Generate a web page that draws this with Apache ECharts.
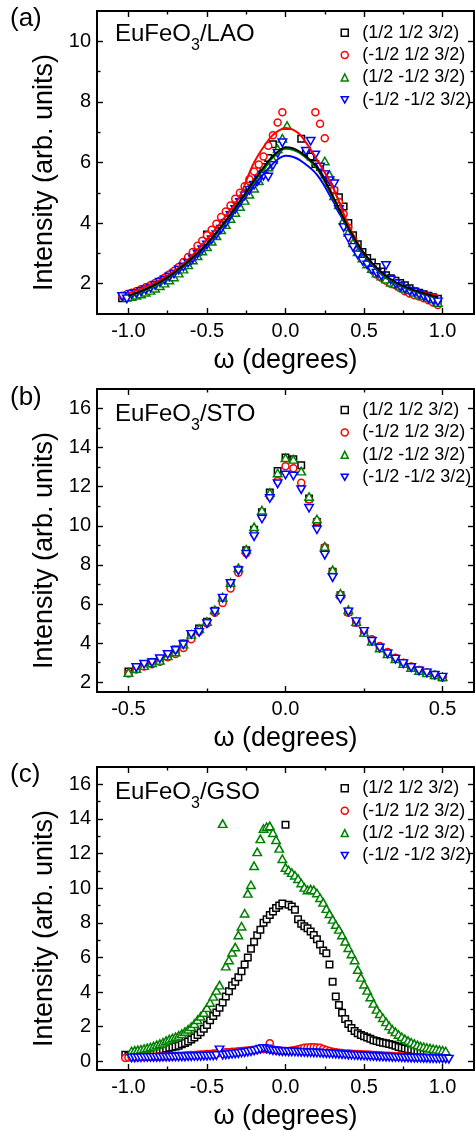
<!DOCTYPE html>
<html>
<head>
<meta charset="utf-8">
<script src="https://cdn.jsdelivr.net/npm/echarts@6/dist/echarts.min.js"></script>
<style>
  html, body { margin: 0; padding: 0; background: #fff; }
  #chart { width: 475px; height: 1131px; }
</style>
</head>
<body>
<div id="chart"></div>
<script>
const FONT = '"Liberation Sans", Arial, Helvetica, sans-serif';

// reflections
const hklNames = ['(1/2 1/2 3/2)', '(-1/2 1/2 3/2)', '(1/2 -1/2 3/2)', '(-1/2 -1/2 3/2)'];

// tick positions
const omegaTicksWide = [-1, -0.5, 0, 0.5, 1];
const omegaMinorWide = [-0.75, -0.25, 0.25, 0.75];
const omegaTicksNarrow = [-0.5, 0, 0.5];
const omegaMinorNarrow = [-0.25, 0.25];
const intensityTicksA = [2, 4, 6, 8, 10];
const intensityMinorA = [3, 5, 7, 9];
const intensityTicksB = [2, 4, 6, 8, 10, 12, 14, 16];
const intensityMinorB = [3, 5, 7, 9, 11, 13, 15];
const intensityTicksC = [0, 2, 4, 6, 8, 10, 12, 14, 16];
const intensityMinorC = [1, 3, 5, 7, 9, 11, 13, 15];

// ---- (a) EuFeO3 / LAO : rocking curves ----
const omegaLAO = [
  -1.04, -1.01, -0.98, -0.95, -0.92, -0.89, -0.86, -0.83, -0.80, -0.77,
  -0.74, -0.71, -0.68, -0.65, -0.62, -0.59, -0.56, -0.53, -0.50, -0.47,
  -0.44, -0.41, -0.38, -0.35, -0.32, -0.29, -0.26, -0.23, -0.20, -0.17,
  -0.14, -0.11, -0.08, -0.05, -0.02, 0.01, 0.04, 0.07, 0.10, 0.13,
  0.16, 0.19, 0.22, 0.25, 0.28, 0.31, 0.34, 0.37, 0.40, 0.43,
  0.46, 0.49, 0.52, 0.55, 0.58, 0.61, 0.64, 0.67, 0.70, 0.73,
  0.76, 0.79, 0.82, 0.85, 0.88, 0.91, 0.94, 0.97
];
const laoPP = [
  1.52, 1.55, 1.62, 1.68, 1.72, 1.80, 1.88, 1.96, 2.05, 2.15,
  2.26, 2.36, 2.48, 2.60, 2.74, 2.90, 3.05, 3.25, 3.62, 3.60,
  3.75, 3.95, 4.12, 4.35, 4.55, 4.75, 4.95, 5.15, 5.35, 5.60,
  5.85, 6.15, 6.60, null, null, null, null, null, 6.78, 6.35,
  6.20, 5.95, 5.85, 5.60, 5.35, 5.05, 4.85, 4.55, 4.00, 3.60,
  3.30, 3.05, 2.85, 2.70, 2.55, 2.40, 2.28, 2.18, 2.10, 2.02,
  1.95, 1.85, 1.75, 1.70, 1.65, 1.60, 1.55, 1.50
];
const laoMP = [
  1.60, 1.65, 1.70, 1.75, 1.82, 1.88, 1.95, 2.02, 2.10, 2.20,
  2.30, 2.42, 2.55, 2.72, 2.88, 3.05, 3.25, 3.42, 3.60, 3.78,
  3.98, 4.20, 4.38, 4.58, 4.80, 5.00, 5.22, 5.45, 5.70, 5.93,
  6.20, 6.55, 6.90, 7.32, 7.66, null, null, null, null, null,
  null, 7.66, 7.28, 6.80, 5.45, 5.10, 4.70, 4.30, 3.85, 3.45,
  3.10, 2.85, 2.65, 2.45, 2.30, 2.20, 2.10, 2.00, 1.95, 1.85,
  1.75, 1.68, 1.62, 1.58, 1.52, 1.45, 1.38, 1.30
];
const laoPM = [
  null, 1.55, 1.58, 1.62, 1.66, 1.72, 1.78, 1.85, 1.93, 2.02,
  2.12, 2.22, 2.35, 2.48, 2.62, 2.78, 2.92, 3.08, 3.22, 3.40,
  3.58, 3.78, 3.95, 4.15, 4.35, 4.55, 4.75, 4.95, 5.15, 5.40,
  5.65, 5.85, 6.10, 6.45, 6.80, 7.22, null, null, null, null,
  null, null, null, 6.05, 5.60, 4.90, 4.60, 4.10, 3.70, 3.35,
  3.05, 2.85, 2.65, 2.50, 2.35, 2.25, 2.15, 2.05, 2.00, 1.92,
  1.85, 1.80, 1.72, 1.65, 1.60, 1.55, 1.50, 1.38
];
const laoMM = [
  1.58, 1.50, 1.65, 1.68, 1.74, 1.80, 1.86, 1.95, 2.05, 2.12,
  2.22, 2.32, 2.45, 2.55, 2.68, 2.82, 2.98, 3.12, 3.28, 3.45,
  3.62, 3.80, 4.00, 4.25, 4.45, 4.68, 4.90, 5.08, 5.25, 5.42,
  5.55, 5.52, 5.90, 6.30, 6.65, null, null, null, null, 6.37,
  6.70, 6.25, 5.85, 5.60, 5.40, 5.30, 4.45, 3.85, 3.50, 3.20,
  2.95, 2.75, 2.62, 2.45, 2.35, 2.25, 2.60, 2.12, 2.00, 1.90,
  1.82, 1.75, 1.72, 1.65, 1.58, 1.50, 1.45, 1.40
];
// fitted profiles for (a)
const fitOmegaLAO = [-1.0, -0.9, -0.8, -0.7, -0.6, -0.5, -0.4, -0.3, -0.2, -0.1, -0.05, 0, 0.05, 0.1, 0.2, 0.3, 0.4, 0.5, 0.6, 0.7, 0.8, 0.9, 0.97];
const fitLaoPP = [1.60, 1.80, 2.05, 2.40, 2.82, 3.32, 3.95, 4.65, 5.40, 6.10, 6.35, 6.50, 6.46, 6.32, 5.85, 4.90, 3.85, 3.00, 2.42, 2.05, 1.82, 1.65, 1.55];
const fitLaoMP = [1.68, 1.88, 2.12, 2.45, 2.90, 3.45, 4.10, 4.80, 6.00, 6.80, 7.03, 7.14, 7.08, 6.88, 6.10, 5.20, 3.95, 3.00, 2.38, 2.00, 1.80, 1.68, 1.62];
const fitLaoPM = [1.58, 1.77, 2.02, 2.37, 2.80, 3.30, 3.92, 4.62, 5.35, 6.05, 6.30, 6.45, 6.41, 6.28, 5.80, 4.85, 3.82, 2.97, 2.38, 2.02, 1.80, 1.63, 1.53];
const fitLaoMM = [1.60, 1.78, 2.02, 2.35, 2.77, 3.27, 3.88, 4.56, 5.25, 5.85, 6.10, 6.22, 6.18, 6.05, 5.60, 4.75, 3.78, 2.93, 2.35, 2.00, 1.78, 1.62, 1.52];

// ---- (b) EuFeO3 / STO ----
const omegaSTO = [
  -0.5, -0.475, -0.45, -0.425, -0.4, -0.375, -0.35, -0.325, -0.3, -0.275,
  -0.25, -0.225, -0.2, -0.175, -0.15, -0.125, -0.1, -0.075, -0.05, -0.025,
  0,
  0.025, 0.05, 0.075, 0.1, 0.125, 0.15, 0.175, 0.2, 0.225, 0.25,
  0.275, 0.3, 0.325, 0.35, 0.375, 0.4, 0.425, 0.45, 0.475, 0.5
];
const stoPP = [
  2.55, 2.75, 2.90, 3.02, 3.18, 3.40, 3.68, 3.98, 4.42, 4.75,
  5.10, 5.65, 6.30, 7.05, 7.75, 8.75, 9.80, 10.70, 11.70, 12.80,
  13.50,
  13.40, 13.10, 11.40, 10.20, 8.85, 7.65, 6.45, 5.60, 5.05, 4.55,
  4.12, 3.78, 3.48, 3.20, 2.96, 2.76, 2.60, 2.48, 2.36, 2.25
];
const stoMP = [
  2.45, 2.65, 2.80, 2.92, 3.05, 3.28, 3.45, 3.75, 4.20, 4.60,
  5.00, 5.55, 6.05, 6.80, 7.60, 8.60, 9.60, 10.50, 11.50, 12.30,
  13.05,
  12.95, 12.20, 11.35, 10.25, 8.90, 7.65, 6.45, 5.55, 5.05, 4.60,
  4.20, 3.85, 3.55, 3.25, 3.00, 2.80, 2.62, 2.50, 2.38, 2.25
];
const stoPM = [
  2.50, 2.70, 2.85, 3.00, 3.12, 3.35, 3.55, 3.95, 4.45, 4.75,
  5.10, 5.70, 6.35, 7.10, 7.85, 8.80, 9.95, 10.80, 11.70, 12.70,
  13.48,
  13.40, 12.80, 11.50, 10.35, 8.95, 7.75, 6.55, 5.70, 5.10, 4.55,
  4.10, 3.75, 3.45, 3.20, 2.95, 2.75, 2.60, 2.48, 2.38, 2.28
];
const stoMM = [
  null, 2.75, 2.92, 3.00, 3.20, 3.42, 3.62, 3.92, 4.45, 4.55,
  5.00, 5.60, 6.30, 7.05, 7.70, 8.55, 9.45, 10.35, 11.40, 12.15,
  12.60,
  12.55, 11.85, 10.90, 9.80, 8.50, 7.35, 6.25, 5.60, 5.10, 4.60,
  4.10, 3.75, 3.45, 3.18, 2.95, 2.75, 2.58, 2.48, 2.36, 2.26
];

// ---- (c) EuFeO3 / GSO ----
const omegaGSO = [
  -1.02, -1.00, -0.98, -0.96, -0.94, -0.92, -0.90, -0.88, -0.86, -0.84,
  -0.82, -0.80, -0.78, -0.76, -0.74, -0.72, -0.70, -0.68, -0.66, -0.64,
  -0.62, -0.60, -0.58, -0.56, -0.54, -0.52, -0.50, -0.48, -0.46, -0.44,
  -0.42, -0.40, -0.38, -0.36, -0.34, -0.32, -0.30, -0.28, -0.26, -0.24,
  -0.22, -0.20, -0.18, -0.16, -0.14, -0.12, -0.10, -0.08, -0.06, -0.04,
  -0.02, 0.00, 0.02, 0.04, 0.06, 0.08, 0.10, 0.12, 0.14, 0.16,
  0.18, 0.20, 0.22, 0.24, 0.26, 0.28, 0.30, 0.32, 0.34, 0.36,
  0.38, 0.40, 0.42, 0.44, 0.46, 0.48, 0.50, 0.52, 0.54, 0.56,
  0.58, 0.60, 0.62, 0.64, 0.66, 0.68, 0.70, 0.72, 0.74, 0.76,
  0.78, 0.80, 0.82, 0.84, 0.86, 0.88, 0.90, 0.92, 0.94, 0.96,
  0.98, 1.00, 1.02, 1.04
];
const gsoPP = [
  0.38, 0.32, 0.35, 0.38, 0.42, 0.45, 0.48, 0.52, 0.55, 0.58,
  0.62, 0.66, 0.70, 0.74, 0.78, 0.82, 0.86, 0.90, 0.98, 1.06,
  1.15, 1.26, 1.38, 1.52, 1.68, 1.88, 2.10, 2.38, 2.62, 2.82,
  3.10, 3.40, 3.75, 4.05, 4.38, 4.60, 4.85, 5.20, 5.60, 6.00,
  6.50, 6.90, 7.28, 7.60, 8.00, 8.20, 8.45, 8.65, 8.85, 9.00,
  9.12, 13.67, 9.05, 8.95, 8.75, 8.20, 7.95, 7.80, 7.68, 7.50,
  7.30, 7.05, 6.75, 6.40, 6.25, 5.60, 4.60, 3.75, 3.25, 2.80,
  2.45, 2.15, 1.92, 1.75, 1.62, 1.52, 1.45, 1.38, 1.30, 1.22,
  1.17, 1.12, 1.08, 1.05, 1.00, 0.96, 0.90, 0.83, 0.78, 0.74,
  0.70, 0.68, 0.64, 0.60, 0.56, 0.52, 0.48, null, null, null,
  null, null, null, null
];
const gsoMP = [
  0.20, 0.22, 0.23, 0.24, 0.24, 0.25, 0.25, 0.26, 0.26, 0.27,
  0.27, 0.28, 0.28, 0.29, 0.30, 0.30, 0.31, 0.32, 0.33, 0.34,
  0.35, 0.36, 0.37, 0.38, 0.39, 0.40, 0.42, 0.43, 0.45, 0.46,
  0.48, 0.50, 0.52, 0.53, 0.55, 0.56, 0.58, 0.60, 0.61, 0.63,
  0.64, 0.66, 0.68, 0.70, 0.72, 0.70, 1.05, 0.66, 0.64, 0.62,
  0.60, 0.60, 0.60, 0.62, 0.65, 0.70, 0.74, 0.78, 0.80, 0.82,
  0.82, 0.80, 0.78, 0.72, 0.66, 0.60, 0.55, 0.52, 0.50, 0.48,
  0.46, 0.45, 0.44, 0.43, 0.42, 0.41, 0.40, 0.39, 0.38, 0.37,
  0.36, 0.35, 0.34, 0.33, 0.32, 0.31, 0.30, 0.29, 0.28, 0.27,
  0.26, 0.25, 0.24, 0.24, 0.23, 0.22, 0.22, null, null, null,
  null, null, null, null
];
const gsoPM = [
  null, null, 0.60, 0.63, 0.66, 0.70, 0.74, 0.78, 0.83, 0.88,
  0.95, 1.02, 1.10, 1.20, 1.28, 1.35, 1.42, 1.50, 1.60, 1.72,
  1.85, 2.00, 2.18, 2.40, 2.60, 2.82, 3.10, 3.40, 3.75, 4.10,
  4.40, 13.73, 5.50, 5.85, 6.30, 6.60, 7.30, 7.80, 8.55, 9.70,
  10.20, 11.30, 12.10, 12.85, 13.45, 13.55, 13.60, 13.20, 12.80, 12.30,
  11.70, 11.20, 11.05, 10.90, 10.75, 10.55, 10.30, 10.05, 9.90, 9.95,
  9.90, 9.72, 9.45, 9.18, 8.82, 8.52, 8.20, 7.90, 7.62, 7.30,
  6.94, 6.56, 6.20, 5.85, 5.30, 4.85, 4.45, 4.10, 3.72, 3.35,
  3.00, 2.75, 2.52, 2.28, 2.05, 1.85, 1.70, 1.55, 1.42, 1.30,
  1.20, 1.10, 1.02, 0.95, 0.88, 0.84, 0.80, 0.76, 0.73, 0.70,
  0.67, 0.64, 0.60, null
];
const gsoMM = [
  null, null, 0.20, 0.20, 0.21, 0.21, 0.22, 0.22, 0.22, 0.23,
  0.23, 0.23, 0.24, 0.24, 0.24, 0.25, 0.25, 0.25, 0.26, 0.26,
  0.27, 0.27, 0.28, 0.28, 0.29, 0.30, 0.30, 0.31, 0.32, 0.33,
  0.66, 0.35, 0.37, 0.39, 0.41, 0.43, 0.45, 0.48, 0.50, 0.53,
  0.56, 0.60, 0.64, 0.70, 0.75, 0.72, 0.66, 0.62, 0.60, 0.58,
  0.56, 0.56, 0.55, 0.55, 0.54, 0.53, 0.52, 0.52, 0.50, 0.50,
  0.49, 0.48, 0.47, 0.46, 0.45, 0.44, 0.43, 0.42, 0.40, 0.39,
  0.38, 0.36, 0.35, 0.34, 0.33, 0.32, 0.31, 0.30, 0.29, 0.28,
  0.27, 0.26, 0.25, 0.24, 0.24, 0.23, 0.22, 0.22, 0.21, 0.20,
  0.20, 0.19, 0.19, 0.18, 0.18, 0.17, 0.17, 0.16, 0.16, 0.15,
  0.15, 0.14, 0.14, 0.13
];

// ---- styling ----
const hklColors = ['#000000', '#ff0000', '#008000', '#0000ff'];
const hklSymbols = ['rect', 'circle', 'triangle', 'path://M0,0L10,0L5,8.66Z'];
const hklSizes = [6.5, 7, [8.5, 7.5], [8.5, 7.5]];

const panels = [
  {
    tag: '(a)', film: 'LAO',
    grid: { left: 97, top: 11, right: 1, bottom: 817 },
    xRange: [-1.2, 1.2], yRange: [1, 11],
    xMajor: omegaTicksWide, xMinor: omegaMinorWide,
    yMajor: intensityTicksA, yMinor: intensityMinorA,
    omega: omegaLAO, sets: [laoPP, laoMP, laoPM, laoMM],
    fitOmega: fitOmegaLAO, fits: [fitLaoMP, fitLaoMM, fitLaoPM, fitLaoPP], fitColors: ['#ff0000', '#0000ff', '#008000', '#000000'],
    tagTop: 6, filmTop: 22, legendTop: 18.7
  },
  {
    tag: '(b)', film: 'STO',
    grid: { left: 97, top: 389, right: 1, bottom: 439 },
    xRange: [-0.6, 0.6], yRange: [1.5, 17],
    xMajor: omegaTicksNarrow, xMinor: omegaMinorNarrow,
    yMajor: intensityTicksB, yMinor: intensityMinorB,
    omega: omegaSTO, sets: [stoPP, stoMP, stoPM, stoMM],
    tagTop: 385, filmTop: 402, legendTop: 396
  },
  {
    tag: '(c)', film: 'GSO',
    grid: { left: 97, top: 767, right: 1, bottom: 60 },
    xRange: [-1.2, 1.2], yRange: [-0.5, 17],
    xMajor: omegaTicksWide, xMinor: omegaMinorWide,
    yMajor: intensityTicksC, yMinor: intensityMinorC,
    omega: omegaGSO, sets: [gsoPP, gsoMP, gsoPM, gsoMM],
    tagTop: 762, filmTop: 780, legendTop: 774.3
  }
];

function pairs(xs, ys) {
  const out = [];
  xs.forEach((x, i) => { if (ys[i] !== null && ys[i] !== undefined) out.push([x, ys[i]]); });
  return out;
}

// four axes per dimension: labelled major side, its minor ticks, mirrored major side, mirrored minor ticks
function axisGroup(dim, gridIndex, range, major, minor, fmt, name) {
  const sides = dim === 'x' ? ['bottom', 'top'] : ['left', 'right'];
  const out = [];
  sides.forEach((side, s) => {
    [major, minor].forEach((vals, m) => {
      const primary = s === 0 && m === 0;
      out.push({
        type: 'value', gridIndex, position: side,
        min: range[0], max: range[1],
        splitLine: { show: false },
        axisLine: { show: m === 0, onZero: false, lineStyle: { color: '#000', width: 2 } },
        axisTick: { show: true, inside: true, length: m === 0 ? 6 : 3.5, customValues: vals,
                    lineStyle: { color: '#000', width: 1.4 } },
        axisLabel: { show: primary, customValues: vals, formatter: fmt, color: '#000',
                     fontFamily: FONT, fontSize: 20, margin: dim === 'x' ? 7 : 6 },
        name: primary ? name : '',
        nameLocation: 'middle',
        nameGap: dim === 'x' ? 33 : 37,
        nameTextStyle: dim === 'x'
          ? { color: '#000', fontFamily: FONT, fontSize: 27 }
          : { color: '#000', fontFamily: FONT, fontSize: 27, padding: [0, 20, 0, 0] },
        silent: true
      });
    });
  });
  return out;
}

const xAxes = [], yAxes = [], series = [], legends = [], graphics = [];

panels.forEach((p, g) => {
  xAxes.push(...axisGroup('x', g, p.xRange, p.xMajor, p.xMinor, v => v.toFixed(1), 'ω (degrees)'));
  yAxes.push(...axisGroup('y', g, p.yRange, p.yMajor, p.yMinor, v => String(v), 'Intensity (arb. units)'));
  const ax = g * 4;

  if (p.fits) {
    p.fits.forEach((f, k) => series.push({
      type: 'line', name: 'fit' + g + k, xAxisIndex: ax, yAxisIndex: ax,
      data: pairs(p.fitOmega, f), smooth: 0.35, showSymbol: false, silent: true,
      lineStyle: { color: p.fitColors[k], width: 2 }, animation: false
    }));
  }
  p.sets.forEach((ys, k) => series.push({
    type: 'scatter', name: hklNames[k], xAxisIndex: ax, yAxisIndex: ax,
    data: pairs(p.omega, ys), symbol: hklSymbols[k], symbolSize: hklSizes[k], silent: true,
    itemStyle: { color: '#ffffff', borderColor: hklColors[k], borderWidth: 1.5, opacity: 1 }
  }));

  legends.push({
    orient: 'vertical', left: 335.5, top: p.legendTop,
    itemWidth: 7, itemHeight: 7, itemGap: 4.4, selectedMode: false,
    textStyle: { color: '#000', fontFamily: FONT, fontSize: 18, lineHeight: 18, padding: [0, 0, 0, 9] },
    data: hklNames.map((n, k) => ({
      name: n, icon: hklSymbols[k],
      itemStyle: { color: '#ffffff', borderColor: hklColors[k], borderWidth: 1.5 }
    }))
  });

  graphics.push({
    type: 'text', left: 10, top: p.tagTop, silent: true,
    style: { text: p.tag, fill: '#000', fontFamily: FONT, fontSize: 26 }
  });
  graphics.push({
    type: 'text', left: 115, top: p.filmTop, silent: true,
    style: {
      text: '{m|EuFeO}{s|3}{m|/' + p.film + '}',
      rich: {
        m: { fill: '#000', fontFamily: FONT, fontSize: 24, verticalAlign: 'top' },
        s: { fill: '#000', fontFamily: FONT, fontSize: 16, verticalAlign: 'bottom', lineHeight: 32 }
      }
    }
  });
});

const chart = echarts.init(document.getElementById('chart'), null, { renderer: 'canvas' });
chart.setOption({
  animation: false,
  backgroundColor: '#ffffff',
  grid: panels.map(p => Object.assign({ containLabel: false }, p.grid)),
  xAxis: xAxes,
  yAxis: yAxes,
  legend: legends,
  graphic: graphics,
  series
});
</script>
</body>
</html>
